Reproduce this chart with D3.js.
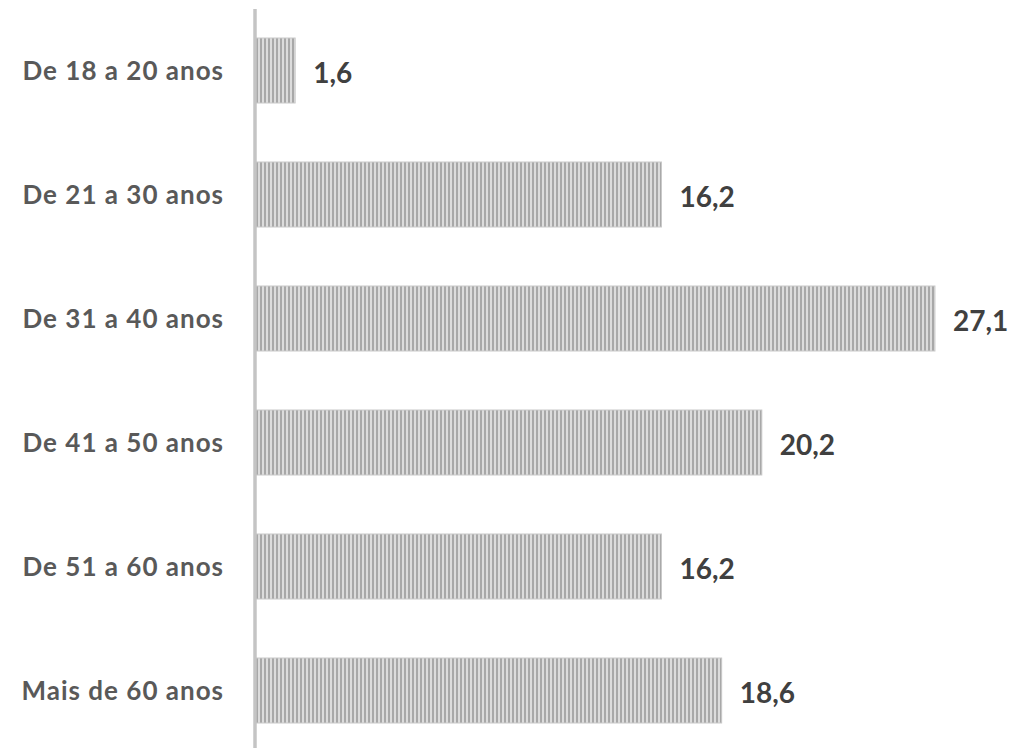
<!DOCTYPE html>
<html><head><meta charset="utf-8">
<script src="https://cdn.jsdelivr.net/npm/d3@7"></script>
<style>body{margin:0;background:#fff}svg{display:block}</style>
</head><body>
<svg id="c" width="1012" height="748"></svg>
<script>
const categories = ["De 18 a 20 anos","De 21 a 30 anos","De 31 a 40 anos","De 41 a 50 anos","De 51 a 60 anos","Mais de 60 anos"];
const values = [1.6,16.2,27.1,20.2,16.2,18.6];
const valueLabels = ["1,6","16,2","27,1","20,2","16,2","18,6"];

const svg = d3.select("#c");
const x = d3.scaleLinear().domain([0,30]).range([255,1007.7]);
const y = d3.scaleBand().domain(categories).range([8.5,752.5]).paddingInner(0.476).paddingOuter(0.238);

const defs = svg.append("defs");
const pat = defs.append("pattern").attr("id","stripes").attr("patternUnits","userSpaceOnUse")
  .attr("width",4).attr("height",10);
pat.append("rect").attr("width",4).attr("height",10).attr("fill","#dcdcdc");
pat.append("rect").attr("x",0).attr("width",2).attr("height",10).attr("fill","#a8a8a8");

svg.selectAll("rect.bar").data(categories).join("rect").attr("class","bar")
  .attr("x",x(0)).attr("y",d=>y(d))
  .attr("width",(d,i)=>x(values[i])-x(0)).attr("height",y.bandwidth())
  .attr("fill","url(#stripes)").attr("stroke","#c8c8c8").attr("stroke-width",1);

svg.append("line").attr("x1",x(0)).attr("x2",x(0)).attr("y1",9).attr("y2",748)
  .attr("stroke","#c4c4c4").attr("stroke-width",3.5);

svg.selectAll("text.cat").data(categories).join("text").attr("class","cat")
  .attr("x",224).attr("y",d=>y(d)+y.bandwidth()/2).attr("dy","0.36em")
  .attr("text-anchor","end").attr("font-family","Lato, 'Open Sans', sans-serif")
  .attr("font-weight","bold").attr("font-size",26).attr("letter-spacing",1)
  .attr("fill","#595959").text(d=>d);

svg.selectAll("text.val").data(categories).join("text").attr("class","val")
  .attr("x",(d,i)=>x(values[i])+18).attr("y",d=>y(d)+y.bandwidth()/2+2).attr("dy","0.36em")
  .attr("font-family","Lato, 'Open Sans', sans-serif")
  .attr("font-weight","bold").attr("font-size",28).attr("fill","#404040").text((d,i)=>valueLabels[i]);
</script>
</body></html>
